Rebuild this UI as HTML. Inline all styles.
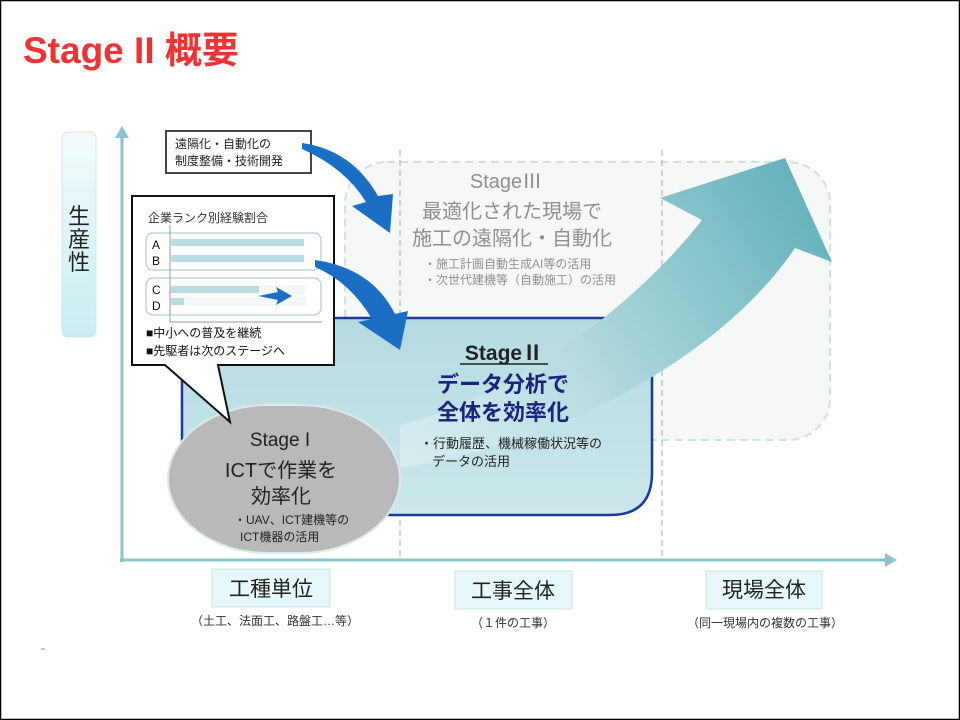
<!DOCTYPE html>
<html><head><meta charset="utf-8"><style>
html,body{margin:0;padding:0;background:#fff}
body{width:960px;height:720px;overflow:hidden}
svg{display:block}
text{font-family:"Liberation Sans","Noto Sans CJK JP",sans-serif}
</style></head><body>
<svg width="960" height="720" viewBox="0 0 960 720" xmlns="http://www.w3.org/2000/svg">
<defs>
<linearGradient id="big" x1="400" y1="460" x2="830" y2="180" gradientUnits="userSpaceOnUse">
<stop offset="0" stop-color="#e6f4f6" stop-opacity="0.5"/>
<stop offset="0.5" stop-color="#a6d3d9"/>
<stop offset="1" stop-color="#5eaeb8"/>
</linearGradient>
<linearGradient id="s2" x1="0" y1="0" x2="0" y2="1">
<stop offset="0" stop-color="#b3dbe1"/>
<stop offset="1" stop-color="#cce7eb"/>
</linearGradient>
<linearGradient id="prod" x1="0" y1="0" x2="0" y2="1">
<stop offset="0" stop-color="#f3fbfc"/>
<stop offset="1" stop-color="#c8eef2"/>
</linearGradient>
</defs>
<rect x="0.5" y="0.5" width="959" height="719" fill="#fff" stroke="#000" stroke-width="1.5"/>
<text x="23" y="63" font-size="37" font-weight="bold" fill="#f03232">Stage II 概要</text>

<rect x="62" y="132" width="34" height="205" rx="6" fill="url(#prod)" stroke="#d6e6e8"/>
<text x="79" y="224" font-size="22" text-anchor="middle" fill="#222">生</text>
<text x="79" y="247" font-size="22" text-anchor="middle" fill="#222">産</text>
<text x="79" y="270" font-size="22" text-anchor="middle" fill="#222">性</text>

<rect x="345" y="162" width="485" height="278" rx="42" fill="#f6f7f7" stroke="#cfe2e7" stroke-width="2" stroke-dasharray="8,5"/>

<line x1="400" y1="150" x2="400" y2="558" stroke="#aaa" stroke-dasharray="6,4"/>
<line x1="662" y1="150" x2="662" y2="558" stroke="#aaa" stroke-dasharray="6,4"/>

<path d="M182,318 L610,318 Q652,318 652,360 L652,473 Q652,515 610,515 L182,515 Z" fill="url(#s2)" stroke="#1c3a9e" stroke-width="2.5"/>

<path d="M400,425 C520,395 640,300 702,220 L660,198 L785,158 L832,262 L795,248 C730,345 580,440 400,468 Z" fill="url(#big)"/>

<text x="506" y="188" font-size="20" text-anchor="middle" fill="#8f8f8f">StageⅢ</text>
<text x="512" y="218" font-size="20" text-anchor="middle" fill="#8f8f8f">最適化された現場で</text>
<text x="512" y="245" font-size="20" text-anchor="middle" fill="#8f8f8f">施工の遠隔化・自動化</text>
<text x="424" y="268" font-size="12" fill="#8f8f8f">・施工計画自動生成AI等の活用</text>
<text x="424" y="284" font-size="12" fill="#8f8f8f">・次世代建機等（自動施工）の活用</text>

<text x="504" y="360" font-size="21" font-weight="bold" text-anchor="middle" fill="#222">StageⅡ</text>
<line x1="460" y1="364" x2="548" y2="364" stroke="#222" stroke-width="1.5"/>
<text x="503" y="392" font-size="22" font-weight="bold" text-anchor="middle" fill="#1a237e">データ分析で</text>
<text x="503" y="420" font-size="22" font-weight="bold" text-anchor="middle" fill="#1a237e">全体を効率化</text>
<text x="420" y="448" font-size="13" fill="#222">・行動履歴、機械稼働状況等の</text>
<text x="432" y="466" font-size="13" fill="#222">データの活用</text>

<line x1="122" y1="135" x2="122" y2="562" stroke="#8ec3cb" stroke-width="3"/>
<path d="M115,138 L122,126 L129,138 Z" fill="#8ec3cb"/>
<line x1="120" y1="560" x2="888" y2="560" stroke="#8ec3cb" stroke-width="3"/>
<path d="M885,553 L897,560 L885,567 Z" fill="#8ec3cb"/>

<rect x="168" y="405" width="232" height="148" rx="100" ry="74" fill="#b9b9b9" stroke="#dbe9ec" stroke-width="2"/>
<text x="280" y="446" font-size="19" text-anchor="middle" fill="#222">Stage I</text>
<text x="281" y="477" font-size="20" text-anchor="middle" fill="#222">ICTで作業を</text>
<text x="281" y="503" font-size="20" text-anchor="middle" fill="#222">効率化</text>
<text x="234" y="524" font-size="12" fill="#222">・UAV、ICT建機等の</text>
<text x="240" y="541" font-size="12" fill="#222">ICT機器の活用</text>

<path d="M132,196 L334,196 L334,365 L218,365 L230,422 L165,365 L132,365 Z" fill="#fff" stroke="#111" stroke-width="2"/>
<text x="148" y="222" font-size="12" fill="#333">企業ランク別経験割合</text>
<rect x="146" y="233" width="175" height="37" rx="7" fill="#fff" stroke="#9cc6cd"/>
<rect x="146" y="278" width="175" height="37" rx="7" fill="#fff" stroke="#9cc6cd"/>
<line x1="170" y1="225" x2="170" y2="322" stroke="#999"/>
<line x1="170" y1="322" x2="322" y2="322" stroke="#999"/>
<rect x="171" y="239" width="133" height="7" fill="#b8dce1"/>
<rect x="171" y="255" width="133" height="7" fill="#b8dce1"/>
<rect x="171" y="286" width="134" height="7" fill="#f4f8f9" stroke="#e2ecee" stroke-width="0.5"/>
<rect x="171" y="286" width="88" height="7" fill="#b8dce1"/>
<rect x="171" y="298" width="134" height="7" fill="#f4f8f9" stroke="#e2ecee" stroke-width="0.5"/>
<rect x="171" y="298" width="13" height="7" fill="#b8dce1"/>
<path d="M258,296 L278,292 L276,287 L292,296 L276,305 L278,300 Z" fill="#1a6fc4"/>
<text x="152" y="249" font-size="12" fill="#111">A</text>
<text x="152" y="265" font-size="12" fill="#111">B</text>
<text x="152" y="294" font-size="12" fill="#111">C</text>
<text x="152" y="310" font-size="12" fill="#111">D</text>
<text x="146" y="337" font-size="12" fill="#111">■中小への普及を継続</text>
<text x="146" y="355" font-size="12" fill="#111">■先駆者は次のステージへ</text>

<rect x="166" y="131" width="145" height="42" fill="#fff" stroke="#444" stroke-width="2"/>
<text x="175" y="148" font-size="12" fill="#222">遠隔化・自動化の</text>
<text x="175" y="165" font-size="12" fill="#222">制度整備・技術開発</text>

<path d="M302,143 Q352,150 378,196 L393,194 L390,233 L352,206 L366,202 Q345,168 302,149 Z" fill="#1a6fc4"/>
<path d="M315,260 Q372,268 395,314 L408,311 L400,350 L358,322 L372,319 Q350,282 315,267 Z" fill="#1a6fc4"/>

<rect x="212" y="569" width="118" height="38" fill="#e6f8fa" stroke="#cfe3e6"/>
<text x="271" y="596" font-size="21" text-anchor="middle" fill="#222">工種単位</text>
<text x="275" y="625" font-size="12" text-anchor="middle" fill="#333">（土工、法面工、路盤工…等）</text>
<rect x="455" y="571" width="117" height="38" fill="#e6f8fa" stroke="#cfe3e6"/>
<text x="513" y="598" font-size="21" text-anchor="middle" fill="#222">工事全体</text>
<text x="513" y="627" font-size="12" text-anchor="middle" fill="#333">（１件の工事）</text>
<rect x="706" y="571" width="116" height="38" fill="#e6f8fa" stroke="#cfe3e6"/>
<text x="764" y="597" font-size="21" text-anchor="middle" fill="#222">現場全体</text>
<text x="765" y="627" font-size="12" text-anchor="middle" fill="#333">（同一現場内の複数の工事）</text>
<line x1="41" y1="649" x2="45" y2="649" stroke="#888"/>
</svg>
</body></html>
